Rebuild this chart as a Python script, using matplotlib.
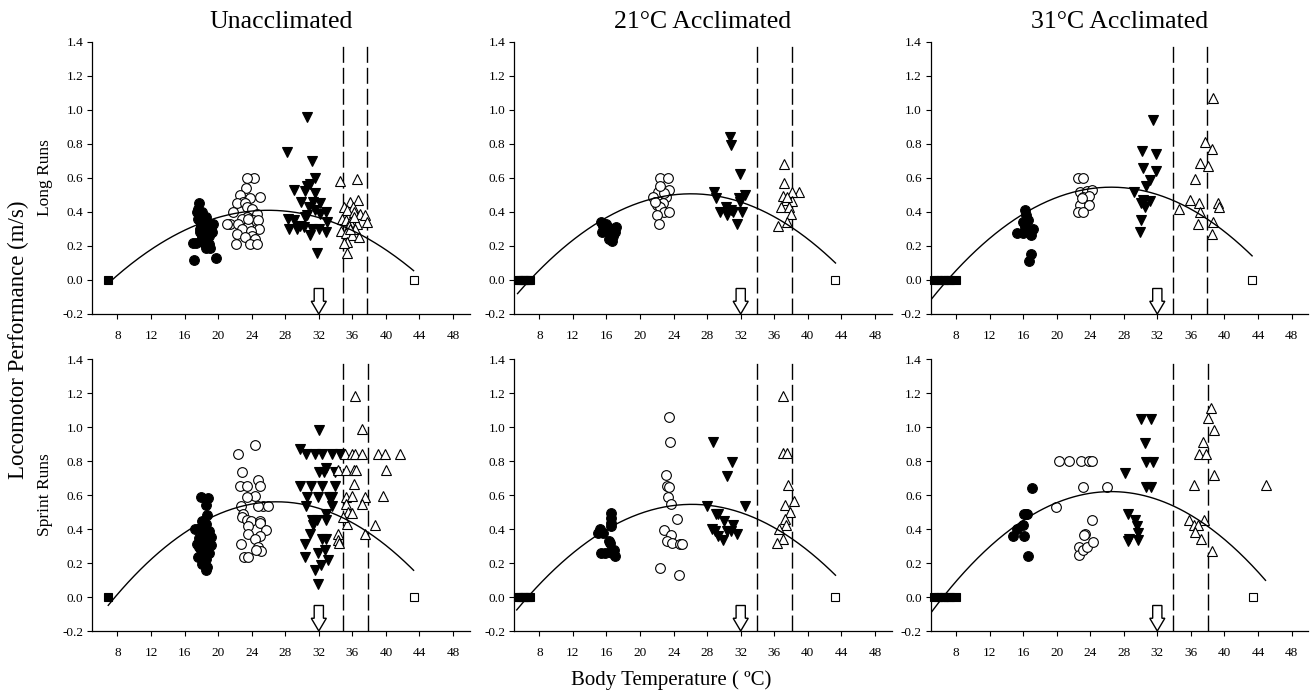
import numpy as np
import matplotlib
matplotlib.use("Agg")
import matplotlib.pyplot as plt
from matplotlib.ticker import FormatStrFormatter

plt.rcParams["font.family"] = ["Liberation Serif", "DejaVu Serif"]
plt.rcParams["axes.unicode_minus"] = False

COL_TITLES = ["Unacclimated", "21\u00b0C Acclimated", "31\u00b0C Acclimated"]
ROW_LABELS = ["Long Runs", "Sprint Runs"]
X_TICKS = list(range(8, 49, 4))
Y_TICKS = [-0.2, 0.0, 0.2, 0.4, 0.6, 0.8, 1.0, 1.2, 1.4]
ARROW_X = 32

# ---- Long runs, unacclimated ----
lu_fc = [(17.1, 0.12), (19.7, 0.13), (17.7, 0.45), (17.6, 0.42), (17.5, 0.40), (18.1, 0.40),
         (17.6, 0.36), (18.3, 0.35), (18.7, 0.34), (18.0, 0.33), (19.0, 0.32), (17.9, 0.31),
         (18.5, 0.31), (19.2, 0.30), (18.2, 0.29), (18.8, 0.29), (17.8, 0.28), (19.3, 0.28),
         (18.4, 0.27), (18.9, 0.26), (18.1, 0.25), (18.6, 0.24), (17.4, 0.22), (17.0, 0.22),
         (18.3, 0.22), (18.9, 0.21), (18.6, 0.19), (19.0, 0.19), (17.8, 0.30), (18.5, 0.37),
         (19.4, 0.33)]
lu_oc = [(24.3, 0.60), (23.4, 0.60), (23.3, 0.54), (22.6, 0.50), (25.0, 0.49), (23.8, 0.48),
         (22.95, 0.46), (22.2, 0.45), (23.2, 0.45), (23.4, 0.43), (24.0, 0.42), (21.8, 0.40),
         (24.6, 0.39), (23.4, 0.37), (22.8, 0.36), (24.1, 0.35), (24.8, 0.35), (21.4, 0.33),
         (22.4, 0.33), (23.6, 0.32), (24.9, 0.30), (22.8, 0.30), (23.9, 0.29), (22.2, 0.27),
         (24.0, 0.26), (23.2, 0.25), (24.4, 0.24), (22.1, 0.21), (23.8, 0.21), (24.6, 0.21),
         (21.0, 0.33), (23.6, 0.36)]
lu_ft = [(30.6, 0.96), (28.2, 0.75), (31.2, 0.70), (31.5, 0.60), (30.9, 0.565), (30.6, 0.55),
         (29.1, 0.53), (30.4, 0.525), (31.6, 0.51), (29.9, 0.46), (31.3, 0.46), (32.2, 0.45),
         (30.8, 0.43), (31.5, 0.41), (32.8, 0.40), (30.6, 0.38), (30.4, 0.37), (28.3, 0.36),
         (29.1, 0.35), (33.0, 0.34), (29.8, 0.315), (28.5, 0.30), (29.4, 0.30), (31.2, 0.30),
         (32.0, 0.30), (32.8, 0.285), (30.9, 0.265), (31.8, 0.16), (30.2, 0.31), (32.2, 0.39)]
lu_ot = [(34.5, 0.58), (36.5, 0.595), (35.75, 0.46), (36.7, 0.47), (35.0, 0.43), (36.1, 0.43),
         (35.4, 0.41), (36.15, 0.40), (36.9, 0.39), (37.5, 0.38), (37.7, 0.34), (34.8, 0.36),
         (35.3, 0.35), (35.75, 0.34), (36.5, 0.33), (35.6, 0.315), (34.6, 0.29), (36.35, 0.30),
         (35.2, 0.275), (35.95, 0.265), (36.75, 0.255), (35.4, 0.225), (35.05, 0.215),
         (35.4, 0.16), (35.75, 0.30), (36.15, 0.37)]
lu_fs = [6.9]
lu_os = [43.3]
lu_curve = [(6.9, -0.02), (25.7, 0.41), (43.3, 0.055)]
lu_dash = [34.9, 37.8]

# ---- Long runs, 21 C ----
l21_fc = [(15.4, 0.34), (15.6, 0.32), (15.9, 0.33), (16.2, 0.31), (16.6, 0.30), (17.1, 0.31),
          (15.5, 0.28), (16.0, 0.29), (16.4, 0.27), (16.8, 0.26), (16.3, 0.24), (16.7, 0.23),
          (17.0, 0.28), (15.8, 0.30), (16.5, 0.25)]
l21_oc = [(22.4, 0.60), (23.3, 0.60), (22.2, 0.52), (21.6, 0.49), (23.5, 0.53), (23.1, 0.49),
          (22.7, 0.45), (22.0, 0.44), (22.4, 0.43), (21.8, 0.46), (22.9, 0.40), (23.4, 0.40),
          (22.0, 0.38), (22.3, 0.33), (22.8, 0.51), (22.4, 0.55)]
l21_ft = [(30.7, 0.84), (30.8, 0.795), (31.9, 0.625), (28.8, 0.52), (32.5, 0.50), (29.0, 0.48),
          (31.8, 0.48), (30.3, 0.43), (30.9, 0.41), (29.5, 0.40), (30.4, 0.38), (32.1, 0.40),
          (31.5, 0.33), (31.9, 0.46), (31.1, 0.40)]
l21_ot = [(37.2, 0.68), (37.2, 0.57), (37.1, 0.495), (38.9, 0.52), (38.1, 0.52), (37.4, 0.47),
          (38.1, 0.465), (36.8, 0.43), (37.7, 0.43), (38.0, 0.39), (37.5, 0.34), (36.5, 0.32),
          (37.5, 0.49)]
l21_fs = [5.4, 5.7, 6.0, 6.3, 6.6, 6.9]
l21_os = [43.3]
l21_curve = [(5.4, -0.08), (26.0, 0.507), (43.3, 0.10)]
l21_dash = [33.9, 38.1]

# ---- Long runs, 31 C ----
l31_fc = [(16.2, 0.41), (16.4, 0.38), (16.0, 0.34), (16.6, 0.35), (15.3, 0.275), (16.0, 0.275),
          (16.35, 0.30), (16.7, 0.29), (17.2, 0.30), (16.9, 0.265), (17.0, 0.153), (16.7, 0.11),
          (16.2, 0.31)]
l31_oc = [(22.6, 0.60), (23.1, 0.60), (22.8, 0.52), (23.6, 0.525), (24.2, 0.53), (23.2, 0.49),
          (23.9, 0.495), (22.8, 0.44), (23.8, 0.44), (22.5, 0.40), (23.2, 0.40), (23.0, 0.48)]
l31_ft = [(31.5, 0.94), (30.2, 0.76), (31.9, 0.74), (30.3, 0.66), (31.9, 0.64), (31.1, 0.59),
          (30.6, 0.555), (29.2, 0.52), (31.1, 0.465), (30.1, 0.45), (30.5, 0.43), (30.3, 0.45),
          (30.1, 0.35), (29.9, 0.285), (30.3, 0.47)]
l31_ot = [(38.6, 1.07), (37.7, 0.81), (38.5, 0.77), (37.1, 0.69), (38.1, 0.67), (36.5, 0.595),
          (35.9, 0.47), (37.0, 0.455), (39.2, 0.45), (39.3, 0.43), (34.6, 0.415), (37.1, 0.40),
          (36.8, 0.33), (38.6, 0.34), (38.5, 0.27)]
l31_fs = [5.4, 5.8, 6.2, 6.6, 7.0, 7.3, 8.0]
l31_os = [43.3]
l31_curve = [(5.0, -0.117), (26.5, 0.546), (43.3, 0.142)]
l31_dash = [33.85, 37.9]

# ---- Sprint runs, unacclimated ----
su_fc = [(17.9, 0.59), (18.8, 0.58), (18.6, 0.54), (18.7, 0.485), (18.1, 0.45), (18.5, 0.43),
         (17.3, 0.40), (17.9, 0.40), (18.9, 0.39), (18.3, 0.37), (17.7, 0.35), (18.7, 0.35),
         (18.1, 0.325), (19.1, 0.305), (17.5, 0.31), (18.5, 0.295), (17.9, 0.275), (18.9, 0.256),
         (17.6, 0.236), (18.5, 0.226), (18.1, 0.197), (18.7, 0.177), (18.5, 0.16), (19.1, 0.355),
         (18.3, 0.41), (17.7, 0.295), (18.9, 0.334), (18.2, 0.256)]
su_oc = [(22.4, 0.844), (24.35, 0.897), (22.8, 0.735), (22.6, 0.652), (23.5, 0.652), (24.8, 0.687),
         (25.0, 0.652), (24.4, 0.593), (23.5, 0.589), (22.7, 0.536), (25.4, 0.536), (25.9, 0.536),
         (24.8, 0.536), (23.0, 0.49), (22.9, 0.47), (23.5, 0.452), (23.9, 0.45), (25.0, 0.45),
         (25.0, 0.436), (23.6, 0.42), (25.7, 0.393), (23.6, 0.37), (25.0, 0.358), (24.4, 0.344),
         (22.7, 0.314), (24.7, 0.295), (25.1, 0.271), (24.5, 0.275), (23.1, 0.236), (23.6, 0.236)]
su_ft = [(32.0, 0.98), (29.7, 0.87), (30.5, 0.84), (31.6, 0.84), (32.4, 0.84), (33.6, 0.84),
         (34.5, 0.84), (32.0, 0.735), (32.8, 0.757), (32.6, 0.737), (33.9, 0.737), (29.8, 0.654),
         (31.1, 0.654), (32.4, 0.654), (33.9, 0.654), (30.6, 0.589), (31.9, 0.589), (33.2, 0.589),
         (33.6, 0.589), (30.5, 0.534), (33.6, 0.534), (32.8, 0.49), (31.8, 0.452), (32.8, 0.452),
         (31.3, 0.422), (30.9, 0.373), (32.4, 0.344), (32.8, 0.344), (32.7, 0.279), (30.4, 0.314),
         (31.9, 0.256), (33.1, 0.216), (30.4, 0.236), (32.3, 0.187), (31.6, 0.161), (31.9, 0.079),
         (31.2, 0.452)]
su_ot = [(36.3, 1.18), (37.1, 0.986), (35.1, 0.844), (35.95, 0.844), (36.3, 0.844), (37.1, 0.844),
         (39.05, 0.844), (39.85, 0.844), (41.7, 0.844), (34.3, 0.746), (35.2, 0.746), (36.15, 0.746),
         (36.4, 0.746), (40.0, 0.746), (35.2, 0.589), (36.0, 0.595), (36.2, 0.662), (37.5, 0.589),
         (39.6, 0.595), (37.1, 0.545), (35.3, 0.545), (35.5, 0.50), (35.9, 0.497), (35.4, 0.432),
         (38.7, 0.426), (34.3, 0.373), (34.3, 0.334), (34.4, 0.318), (37.5, 0.373), (34.9, 0.47)]
su_fs = [6.9]
su_os = [43.3]
su_curve = [(6.9, -0.049), (27.0, 0.56), (43.3, 0.157)]
su_dash = [34.85, 37.9]

# ---- Sprint runs, 21 C ----
s21_fc = [(15.0, 0.379), (15.2, 0.40), (15.6, 0.379), (16.5, 0.497), (16.5, 0.467), (16.5, 0.438),
          (16.5, 0.42), (16.3, 0.33), (16.4, 0.32), (15.4, 0.261), (15.8, 0.261), (16.4, 0.265),
          (16.9, 0.277), (17.0, 0.24), (16.6, 0.261)]
s21_oc = [(23.4, 1.056), (23.6, 0.913), (23.1, 0.717), (23.2, 0.654), (23.5, 0.65), (23.3, 0.591),
          (23.7, 0.546), (24.4, 0.458), (22.9, 0.395), (23.7, 0.363), (23.2, 0.33), (23.8, 0.316),
          (24.8, 0.314), (25.0, 0.314), (22.4, 0.173), (24.6, 0.13)]
s21_ft = [(28.75, 0.91), (31.0, 0.797), (30.35, 0.713), (28.0, 0.536), (32.5, 0.536), (29.0, 0.487),
          (29.25, 0.487), (30.0, 0.448), (31.1, 0.422), (28.6, 0.40), (28.95, 0.39), (30.35, 0.39),
          (30.8, 0.39), (29.25, 0.36), (31.6, 0.37), (29.9, 0.334)]
s21_ot = [(37.1, 1.184), (37.0, 0.846), (37.5, 0.846), (37.6, 0.66), (37.3, 0.542), (38.4, 0.566),
          (37.9, 0.501), (37.3, 0.458), (37.4, 0.422), (36.6, 0.399), (37.1, 0.34), (36.3, 0.32)]
s21_fs = [5.4, 5.7, 6.0, 6.3, 6.6, 6.9]
s21_os = [43.3]
s21_curve = [(5.3, -0.076), (26.2, 0.545), (43.3, 0.128)]
s21_dash = [33.9, 38.1]

# ---- Sprint runs, 31 C ----
s31_fc = [(14.75, 0.36), (15.3, 0.40), (16.0, 0.425), (16.1, 0.49), (16.5, 0.49), (16.1, 0.36),
          (16.6, 0.239), (17.1, 0.644), (16.3, 0.49)]
s31_oc = [(19.9, 0.527), (20.3, 0.80), (21.45, 0.80), (22.85, 0.80), (23.8, 0.80), (24.2, 0.80),
          (23.2, 0.646), (26.05, 0.646), (24.2, 0.454), (23.4, 0.372), (23.3, 0.362), (22.65, 0.294),
          (22.7, 0.249), (23.2, 0.274), (23.65, 0.294), (24.3, 0.323)]
s31_ft = [(30.0, 1.048), (31.2, 1.048), (30.55, 0.905), (30.7, 0.797), (31.45, 0.797), (28.15, 0.728),
          (30.6, 0.646), (31.25, 0.646), (28.55, 0.49), (29.4, 0.454), (29.55, 0.419), (29.75, 0.376),
          (28.65, 0.341), (28.45, 0.327), (29.65, 0.337)]
s31_ot = [(38.4, 1.114), (38.1, 1.051), (38.7, 0.983), (37.5, 0.909), (37.0, 0.842), (37.8, 0.842),
          (38.8, 0.719), (36.4, 0.656), (44.9, 0.656), (35.8, 0.454), (37.6, 0.454), (36.4, 0.425),
          (36.8, 0.425), (36.55, 0.38), (37.2, 0.34), (38.5, 0.272)]
s31_fs = [5.4, 5.8, 6.2, 6.6, 7.0, 7.3, 8.0]
s31_os = [43.4]
s31_curve = [(5.0, -0.094), (26.5, 0.62), (44.9, 0.098)]
s31_dash = [33.9, 38.1]

PANELS = [
    [(lu_fc, lu_oc, lu_ft, lu_ot, lu_fs, lu_os, lu_curve, lu_dash),
     (l21_fc, l21_oc, l21_ft, l21_ot, l21_fs, l21_os, l21_curve, l21_dash),
     (l31_fc, l31_oc, l31_ft, l31_ot, l31_fs, l31_os, l31_curve, l31_dash)],
    [(su_fc, su_oc, su_ft, su_ot, su_fs, su_os, su_curve, su_dash),
     (s21_fc, s21_oc, s21_ft, s21_ot, s21_fs, s21_os, s21_curve, s21_dash),
     (s31_fc, s31_oc, s31_ft, s31_ot, s31_fs, s31_os, s31_curve, s31_dash)],
]

W, H = 1312, 694
COL_LEFT = [92.3, 514.2, 930.8]
AX_W = 377.5
ROW_TOP = [42, 359]
AX_H = 272


def scatter(ax, pts, marker, filled, size):
    xs = [p[0] for p in pts]
    ys = [p[1] for p in pts]
    ax.plot(xs, ys, linestyle="none", marker=marker, markersize=size,
            markerfacecolor="black" if filled else "white", markeredgecolor="black",
            markeredgewidth=0.8, zorder=3, clip_on=False)


fig = plt.figure(figsize=(W / 100, H / 100), dpi=100)

for r in range(2):
    for c in range(3):
        fc, oc, ft, ot, fs, os_, curve, dash = PANELS[r][c]
        left = COL_LEFT[c] / W
        bottom = 1 - (ROW_TOP[r] + AX_H) / H
        ax = fig.add_axes([left, bottom, AX_W / W, AX_H / H])
        ax.set_xlim(5, 50)
        ax.set_ylim(-0.2, 1.4)
        for side in ("top", "right"):
            ax.spines[side].set_visible(False)
        for side in ("left", "bottom"):
            ax.spines[side].set_linewidth(0.9)
        ax.set_xticks(X_TICKS)
        ax.set_yticks(Y_TICKS)
        ax.yaxis.set_major_formatter(FormatStrFormatter("%.1f"))
        ax.tick_params(axis="both", direction="out", length=3.5, width=0.8, labelsize=9.5)
        ax.tick_params(axis="x", pad=8)
        ax.tick_params(axis="y", pad=3)

        for xd in dash:
            ax.axvline(xd, color="black", linewidth=1.0, linestyle=(0, (11.5, 3.6)), zorder=2)

        scatter(ax, fc, "o", True, 7)
        scatter(ax, oc, "o", False, 7)
        scatter(ax, ft, "v", True, 7)
        scatter(ax, ot, "^", False, 6.5)
        scatter(ax, [(x, 0.0) for x in fs], "s", True, 5.5)
        scatter(ax, [(x, 0.0) for x in os_], "s", False, 5.5)

        cx = [p[0] for p in curve]
        cy = [p[1] for p in curve]
        coef = np.polyfit(cx, cy, 2)
        xx = np.linspace(cx[0], cx[-1], 200)
        ax.plot(xx, np.polyval(coef, xx), color="black", linewidth=1.0, zorder=4)

        ax.arrow(ARROW_X, -0.05, 0, -0.15, width=1.1, head_width=1.8, head_length=0.075,
                 length_includes_head=True, facecolor="white", edgecolor="black",
                 linewidth=1.0, zorder=5, clip_on=False)

        if r == 0:
            fig.text((COL_LEFT[c] + AX_W / 2) / W, 1 - 22 / H, COL_TITLES[c],
                     ha="center", va="center", fontsize=18.5)
        if c == 0:
            fig.text(45 / W, 1 - (ROW_TOP[r] + AX_H / 2) / H, ROW_LABELS[r],
                     ha="center", va="center", rotation=90, fontsize=12.5)

fig.text(18 / W, 1 - 340 / H, "Locomotor Performance (m/s)", ha="center", va="center",
         rotation=90, fontsize=16.5)
fig.text(671 / W, 1 - 680 / H, "Body Temperature ( \u00baC)", ha="center", va="center",
         fontsize=15)

fig.savefig("out.png", dpi=100)
